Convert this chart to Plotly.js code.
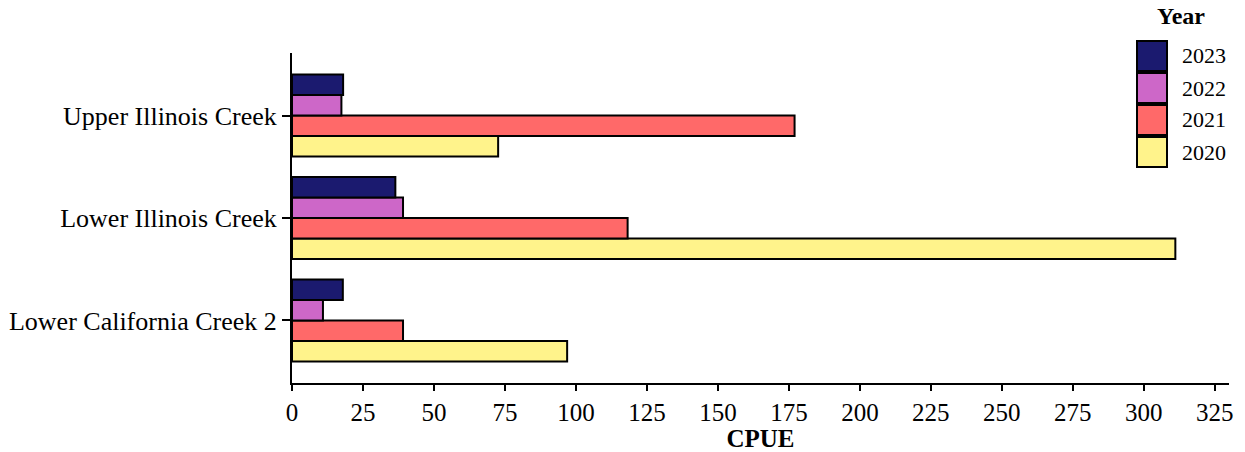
<!DOCTYPE html>
<html>
<head>
<meta charset="utf-8">
<script src="https://cdn.plot.ly/plotly-3.0.1.min.js"></script>
<style>html,body{margin:0;padding:0;background:#fff;}#chart{width:1245px;height:452px;}</style>
</head>
<body>
<div id="chart"></div>
<script>
// Sites, bottom to top
const sites = ["Lower California Creek 2", "Lower Illinois Creek", "Upper Illinois Creek"];
// Years (legend order top to bottom is reversed)
const years = ["2020", "2021", "2022", "2023"];
const colors = ["#fff38b", "#ff6969", "#cd67c8", "#1b1a6f"];
// CPUE values per year, aligned with sites
const cpue2020 = [96.9, 311.1, 72.6];
const cpue2021 = [39.1, 118.2, 177.0];
const cpue2022 = [10.9, 39.1, 17.4];
const cpue2023 = [17.9, 36.4, 18.0];
const xTicks = [0, 25, 50, 75, 100, 125, 150, 175, 200, 225, 250, 275, 300, 325];

const series = [cpue2020, cpue2021, cpue2022, cpue2023];
const FONT = "Liberation Serif, Times New Roman, serif";

const traces = years.map((yr, i) => ({
  type: "bar",
  orientation: "h",
  name: yr,
  y: sites,
  x: series[i],
  marker: {color: colors[i], line: {color: "#000", width: 2}},
  showlegend: false,
  hoverinfo: "x+y+name"
}));

// Manual legend (large swatches)
const W = 1245, H = 452;
const mL = 292, mR = 16, mT = 53, mB = 69;
const pw = W - mL - mR, ph = H - mT - mB;
const px = v => (v - mL) / pw;
const py = v => (H - mB - v) / ph;

const shapes = [];
const annotations = [];
const boxX0 = 1137, boxX1 = 1167, boxTop = 40, boxH = 32;
const legendOrder = years.slice().reverse();
const legendColors = colors.slice().reverse();
legendOrder.forEach((yr, k) => {
  const t = boxTop + k * boxH;
  shapes.push({
    type: "rect", xref: "paper", yref: "paper",
    x0: px(boxX0), x1: px(boxX1), y0: py(t + boxH - 1), y1: py(t + 1),
    fillcolor: legendColors[k], line: {color: "#000", width: 2}
  });
  annotations.push({
    xref: "paper", yref: "paper", x: px(1180), y: py(t + boxH / 2),
    xanchor: "left", yanchor: "middle", showarrow: false,
    text: yr, font: {family: FONT, size: 22, color: "#000"}
  });
});
annotations.push({
  xref: "paper", yref: "paper", x: px(1181), y: py(16),
  xanchor: "center", yanchor: "middle", showarrow: false,
  text: "<b>Year</b>", font: {family: FONT, size: 24, color: "#000"}
});

const layout = {
  width: W, height: H,
  margin: {l: mL, r: mR, t: mT, b: mB, pad: 0},
  paper_bgcolor: "#fff", plot_bgcolor: "#fff",
  barmode: "group", bargap: 0.2, bargroupgap: 0,
  showlegend: false,
  font: {family: FONT, color: "#000"},
  xaxis: {
    range: [0, 330], tickvals: xTicks, ticktext: xTicks.map(String),
    showgrid: false, zeroline: false, showline: true, linecolor: "#000", linewidth: 2,
    ticks: "outside", ticklen: 6, tickwidth: 2, tickcolor: "#000",
    tickfont: {family: FONT, size: 25, color: "#000"},
    title: {text: "<b>CPUE</b>", font: {family: FONT, size: 25, color: "#000"}, standoff: 4}
  },
  yaxis: {
    type: "category", categoryorder: "array", categoryarray: sites,
    range: [-0.61, 2.61],
    showgrid: false, zeroline: false, showline: true, linecolor: "#000", linewidth: 2,
    ticks: "outside", ticklen: 8, tickwidth: 2, tickcolor: "#000",
    tickfont: {family: FONT, size: 26, color: "#000"}
  },
  shapes: shapes,
  annotations: annotations
};

Plotly.newPlot("chart", traces, layout, {displayModeBar: false, staticPlot: true});
</script>
</body>
</html>
